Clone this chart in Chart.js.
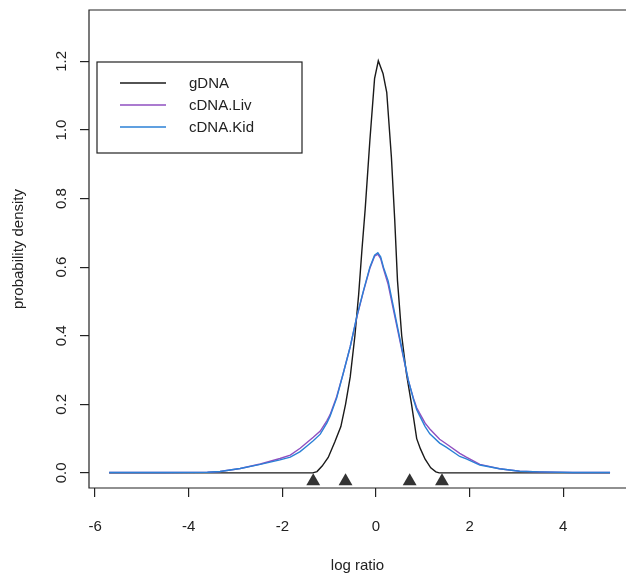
<!DOCTYPE html>
<html>
<head>
<meta charset="utf-8">
<script src="https://cdn.jsdelivr.net/npm/chart.js@4.4.1/dist/chart.umd.min.js"></script>
<style>
  html, body { margin: 0; padding: 0; background: #fff; overflow: hidden; }
  #wrap { width: 626px; height: 576px; }
</style>
</head>
<body>
<div id="wrap"><canvas id="densChart" width="626" height="576"></canvas></div>
<script>
// density curves, [log ratio, density]
const gDNA = [
  [-5.7, 0], [-1.35, 0], [-1.26, 0.004], [-1.15, 0.02], [-1.02, 0.045], [-0.88, 0.09],
  [-0.75, 0.135], [-0.65, 0.2], [-0.55, 0.28], [-0.45, 0.40], [-0.37, 0.52], [-0.30, 0.65],
  [-0.23, 0.77], [-0.13, 0.97], [-0.03, 1.15], [0.05, 1.202], [0.15, 1.165], [0.23, 1.11],
  [0.33, 0.92], [0.40, 0.74], [0.46, 0.56], [0.55, 0.40], [0.65, 0.29], [0.76, 0.20],
  [0.87, 0.10], [0.95, 0.07], [1.05, 0.04], [1.17, 0.015], [1.28, 0.003], [1.35, 0], [5.0, 0]
];
const cDNALiv = [
  [-5.7, 0.001], [-4.5, 0.001], [-3.6, 0.002], [-3.33, 0.004], [-2.9, 0.013], [-2.47, 0.026],
  [-2.05, 0.042], [-1.83, 0.052], [-1.62, 0.072], [-1.48, 0.088], [-1.34, 0.104], [-1.19, 0.122],
  [-1.05, 0.152], [-0.98, 0.17], [-0.84, 0.222], [-0.70, 0.29], [-0.55, 0.368], [-0.41, 0.454],
  [-0.27, 0.528], [-0.13, 0.597], [-0.03, 0.632], [0.04, 0.638], [0.10, 0.625], [0.16, 0.595],
  [0.26, 0.55], [0.40, 0.458], [0.55, 0.36], [0.69, 0.27], [0.80, 0.218], [0.87, 0.19],
  [0.94, 0.172], [1.05, 0.145], [1.15, 0.128], [1.36, 0.098], [1.5, 0.085], [1.79, 0.057],
  [1.93, 0.046], [2.22, 0.025], [2.64, 0.012], [3.07, 0.005], [3.5, 0.003], [4.2, 0.001], [5.0, 0.001]
];
const cDNAKid = [
  [-5.7, 0.001], [-4.5, 0.001], [-3.6, 0.002], [-3.33, 0.004], [-2.9, 0.013], [-2.47, 0.025],
  [-2.05, 0.038], [-1.83, 0.046], [-1.62, 0.062], [-1.48, 0.078], [-1.34, 0.094], [-1.19, 0.113],
  [-1.05, 0.145], [-0.98, 0.165], [-0.84, 0.218], [-0.70, 0.29], [-0.55, 0.368], [-0.41, 0.456],
  [-0.27, 0.53], [-0.13, 0.60], [-0.03, 0.635], [0.04, 0.642], [0.10, 0.63], [0.16, 0.60],
  [0.26, 0.56], [0.40, 0.466], [0.55, 0.365], [0.69, 0.271], [0.80, 0.215], [0.87, 0.184],
  [0.94, 0.165], [1.05, 0.135], [1.15, 0.114], [1.36, 0.087], [1.5, 0.075], [1.79, 0.048],
  [1.93, 0.041], [2.22, 0.023], [2.64, 0.012], [3.07, 0.005], [3.5, 0.003], [4.2, 0.001], [5.0, 0.001]
];
// triangle markers under the zero line
const markerX = [-1.34, -0.65, 0.72, 1.41];
const markerY = -0.024;

const seriesNames = ['gDNA', 'cDNA.Liv', 'cDNA.Kid'];
const seriesColors = ['#1a1a1a', '#8f4fc0', '#2b80d6'];

const xTicks = [-6, -4, -2, 0, 2, 4];
const yTicks = [0, 0.2, 0.4, 0.6, 0.8, 1.0, 1.2];
const yTickLabels = ['0.0', '0.2', '0.4', '0.6', '0.8', '1.0', '1.2'];
const xTitle = 'log ratio';

const FONT = "'Liberation Sans', Arial, sans-serif";
const INK = '#222';

const toPts = arr => arr.map(p => ({ x: p[0], y: p[1] }));

// R style box (runs off the right edge), rotated y labels, x title and legend
const basePlotPlugin = {
    id: 'basePlot',
    afterDraw(chart) {
        const { ctx, chartArea: a, scales } = chart;
        ctx.save();
        ctx.strokeStyle = INK;
        ctx.lineWidth = 1.2;
        ctx.beginPath();
        ctx.moveTo(chart.width + 2, a.top);
        ctx.lineTo(a.left, a.top);
        ctx.lineTo(a.left, a.bottom);
        ctx.lineTo(chart.width + 2, a.bottom);
        ctx.stroke();

        ctx.fillStyle = INK;
        ctx.font = '15px ' + FONT;
        ctx.textAlign = 'center';
        ctx.textBaseline = 'middle';
        // y tick labels, rotated like R
        yTicks.forEach((v, i) => {
            const py = scales.y.getPixelForValue(v);
            ctx.save();
            ctx.translate(62, py);
            ctx.rotate(-Math.PI / 2);
            ctx.fillText(yTickLabels[i], 0, 0);
            ctx.restore();
        });
        // x title centred on the full plot box
        ctx.fillText(xTitle, (a.left + chart.width) / 2, chart.height - 10);

        // legend
        const lx = 97, ly = 62, lw = 205, lh = 91;
        ctx.lineWidth = 1.2;
        ctx.strokeStyle = INK;
        ctx.strokeRect(lx, ly, lw, lh);
        ctx.textAlign = 'left';
        seriesNames.forEach((name, i) => {
            const ry = ly + 21 + i * 22;
            ctx.strokeStyle = seriesColors[i];
            ctx.lineWidth = 1.4;
            ctx.beginPath();
            ctx.moveTo(lx + 23, ry);
            ctx.lineTo(lx + 69, ry);
            ctx.stroke();
            ctx.fillStyle = INK;
            ctx.fillText(name, lx + 92, ry + 1);
        });
        ctx.restore();
    }
};

const lineSet = (label, data, color, order) => ({
    label: label,
    data: toPts(data),
    showLine: true,
    borderColor: color,
    borderWidth: 1.4,
    pointRadius: 0,
    tension: 0,
    order: order
});

new Chart(document.getElementById('densChart'), {
    type: 'scatter',
    data: {
        datasets: [
            {
                label: 'markers',
                data: markerX.map(x => ({ x: x, y: markerY })),
                pointStyle: 'triangle',
                pointRadius: 8,
                backgroundColor: '#333',
                borderColor: '#333',
                borderWidth: 0,
                order: 0
            },
            lineSet(seriesNames[2], cDNAKid, seriesColors[2], 1),
            lineSet(seriesNames[1], cDNALiv, seriesColors[1], 2),
            lineSet(seriesNames[0], gDNA, seriesColors[0], 3)
        ]
    },
    options: {
        responsive: false,
        animation: false,
        layout: { padding: { top: 10, right: 0, left: 0, bottom: 0 } },
        plugins: {
            legend: { display: false },
            tooltip: { enabled: false }
        },
        scales: {
            x: {
                type: 'linear',
                min: -6.13,
                max: 5.17,
                afterBuildTicks: s => { s.ticks = xTicks.map(v => ({ value: v })); },
                afterFit: s => { s.height = 88; },
                ticks: {
                    font: { size: 15, family: FONT },
                    color: INK,
                    padding: 21,
                    maxRotation: 0,
                    callback: v => String(v)
                },
                grid: { drawOnChartArea: false, tickLength: 9, color: INK, lineWidth: 1.2 },
                border: { display: false }
            },
            y: {
                type: 'linear',
                min: -0.044,
                max: 1.35,
                afterBuildTicks: s => { s.ticks = yTicks.map(v => ({ value: v })); },
                afterFit: s => { s.width = 89; },
                ticks: { display: false },
                grid: { drawOnChartArea: false, tickLength: 9, color: INK, lineWidth: 1.2 },
                border: { display: false },
                title: {
                    display: true,
                    text: 'probability density',
                    font: { size: 15, family: FONT },
                    color: INK,
                    padding: { top: 10, bottom: 0 }
                }
            }
        }
    },
    plugins: [basePlotPlugin]
});
</script>
</body>
</html>
